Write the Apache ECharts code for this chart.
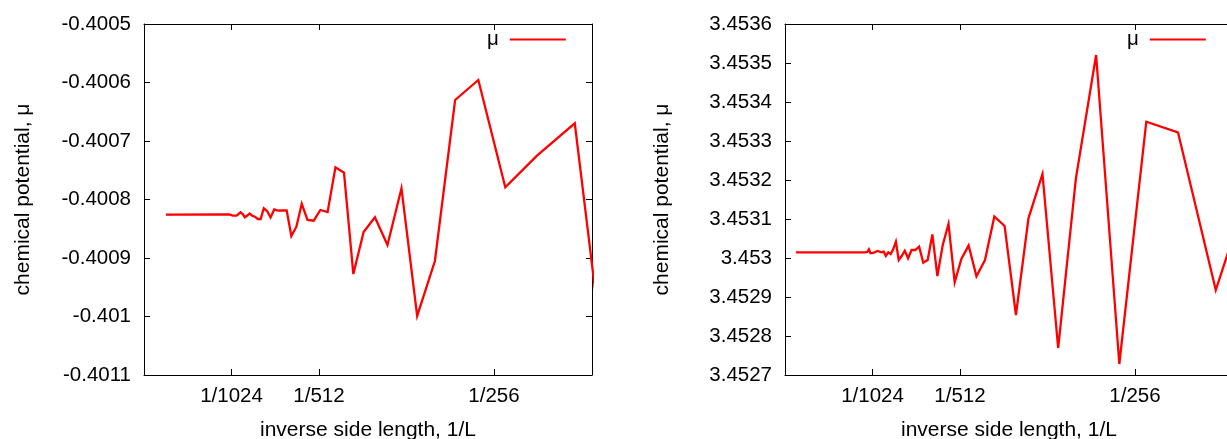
<!DOCTYPE html>
<html>
<head>
<meta charset="utf-8">
<script src="https://cdn.jsdelivr.net/npm/echarts@6/dist/echarts.min.js"></script>
<style>
  html, body { margin: 0; padding: 0; background: #fff; }
  #chart { width: 1227px; height: 439px; }
</style>
</head>
<body>
<div id="chart"></div>
<script>
// Side lengths L of the simulated lattices and the chemical potential measured on each.
const sizesA = [4096, 1128, 1108, 1088, 1068, 1048, 1028, 1008, 988, 968, 948, 928, 908, 888, 868, 848, 828, 808, 788, 768, 748, 728, 708, 688, 668, 648, 628, 608, 588, 568, 548, 528, 508, 488, 468, 448, 428, 408, 388, 368, 348, 328, 308, 288, 268, 248, 228, 208, 188];
const muA = [-0.4008260, -0.4008256, -0.4008248, -0.4008256, -0.4008274, -0.4008256, -0.4008253, -0.4008277, -0.4008265, -0.4008274, -0.4008265, -0.4008219, -0.4008248, -0.4008304, -0.4008274, -0.4008239, -0.4008277, -0.4008294, -0.4008333, -0.4008333, -0.4008150, -0.4008197, -0.4008308, -0.4008171, -0.4008191, -0.4008188, -0.4008188, -0.4008624, -0.4008465, -0.4008073, -0.4008350, -0.4008362, -0.4008179, -0.4008214, -0.4007450, -0.4007542, -0.4009274, -0.4008556, -0.4008304, -0.4008778, -0.4007809, -0.4009991, -0.4009051, -0.4006299, -0.4005957, -0.4007792, -0.4007251, -0.4006697, -0.4013120];

const sizesB = [8192, 1128, 1108, 1088, 1068, 1048, 1028, 1008, 988, 968, 948, 928, 908, 888, 868, 848, 828, 808, 788, 768, 748, 728, 708, 688, 668, 648, 628, 608, 588, 568, 548, 528, 508, 488, 468, 448, 428, 408, 388, 368, 348, 328, 308, 288, 268, 248, 228, 208, 188];
const muB = [3.4530146, 3.4530146, 3.4530146, 3.4530154, 3.4530223, 3.4530121, 3.4530162, 3.4530136, 3.4530085, 3.4530179, 3.4530162, 3.4530146, 3.4530162, 3.4530051, 3.4530146, 3.4530103, 3.4530223, 3.4530418, 3.4529949, 3.4530051, 3.4530187, 3.4529992, 3.4530205, 3.4530205, 3.4530290, 3.4529879, 3.4529949, 3.4530603, 3.4529538, 3.4530333, 3.4530872, 3.4529380, 3.4529974, 3.4530321, 3.4529530, 3.4529949, 3.4531064, 3.4530821, 3.4528538, 3.4531018, 3.4532154, 3.4527692, 3.4532044, 3.4535205, 3.4527282, 3.4533495, 3.4533223, 3.4529179, 3.4532769];

// x-axis tick labels and their positions on the 1/L scale
const xTickLabels = ['1/1024', '1/512', '1/256'];
const xTickValues = [1 / 1024, 1 / 512, 1 / 256];

const yRangeA = { min: -0.4011, max: -0.4005, step: 0.0001 };
const yRangeB = { min: 3.4527, max: 3.4536, step: 0.0001 };

const FONT = 'Liberation Sans';
const FS_TICK = 20.5;
const FS_NAME = 21;
const RED = '#ff0000';
const INK = '#000000';

function fmtY(v) { return String(parseFloat(v.toFixed(4))); }
function fmtX(v) {
  for (let i = 0; i < xTickValues.length; i++) {
    if (Math.abs(v - xTickValues[i]) < 1e-9) return xTickLabels[i];
  }
  return '';
}

// Two side-by-side panels; the right one runs slightly past the canvas edge.
const grids = [
  { left: 144, right: 635, top: 24, bottom: 64, outerBoundsMode: 'none', containLabel: false },
  { left: 785, right: -6, top: 24, bottom: 64, outerBoundsMode: 'none', containLabel: false }
];

function xAxes(gi) {
  const base = {
    gridIndex: gi, type: 'value', min: 0, max: 0.005,
    splitLine: { show: false },
    axisLine: { show: true, onZero: false, lineStyle: { color: INK, width: 1 } },
    axisTick: { show: true, inside: true, length: 6, customValues: xTickValues, lineStyle: { color: INK } }
  };
  return [
    Object.assign({}, base, {
      position: 'bottom',
      name: 'inverse side length, 1/L', nameLocation: 'middle', nameGap: 45,
      nameTextStyle: { fontFamily: FONT, fontSize: FS_NAME, color: INK },
      axisLabel: { show: true, customValues: xTickValues, formatter: fmtX, margin: 11,
        fontFamily: FONT, fontSize: FS_TICK, color: INK }
    }),
    Object.assign({}, base, { position: 'top', axisLabel: { show: false } })
  ];
}

function yAxes(gi, r, gap) {
  const base = {
    gridIndex: gi, type: 'value', min: r.min, max: r.max, interval: r.step,
    splitLine: { show: false },
    axisLine: { show: true, onZero: false, lineStyle: { color: INK, width: 1 } },
    axisTick: { show: true, inside: true, length: 6, lineStyle: { color: INK } }
  };
  return [
    Object.assign({}, base, {
      position: 'left',
      name: 'chemical potential, μ', nameLocation: 'middle', nameGap: gap,
      nameTextStyle: { fontFamily: FONT, fontSize: FS_NAME, color: INK },
      axisLabel: { show: true, formatter: fmtY, margin: 13, fontFamily: FONT, fontSize: FS_TICK, color: INK }
    }),
    Object.assign({}, base, { position: 'right', axisLabel: { show: false } })
  ];
}

function toPoints(sizes, mu) { return sizes.map((L, i) => [1 / L, mu[i]]); }

// Key: label first, then a short red line sample.
function legendAt(left, top) {
  return {
    data: [{ name: 'μ', icon: 'rect' }], left: left, top: top, orient: 'horizontal', align: 'right',
    itemWidth: 56, itemHeight: 2, selectedMode: false,
    itemStyle: { color: RED },
    textStyle: { fontFamily: FONT, fontSize: FS_TICK, color: INK, padding: [6, 6, 0, 0] }
  };
}

const series = [
  { data: toPoints(sizesA, muA), xAxisIndex: 0, yAxisIndex: 0 },
  { data: toPoints(sizesB, muB), xAxisIndex: 2, yAxisIndex: 2 }
].map(s => Object.assign({
  name: 'μ', type: 'line', symbol: 'none', clip: true, silent: true,
  lineStyle: { color: RED, width: 2.3, join: 'miter', miterLimit: 6 },
  itemStyle: { color: RED }
}, s));

const chart = echarts.init(document.getElementById('chart'), null, { renderer: 'canvas' });
chart.setOption({
  animation: false,
  backgroundColor: '#ffffff',
  grid: grids,
  xAxis: xAxes(0).concat(xAxes(1)),
  yAxis: yAxes(0, yRangeA, 110).concat(yAxes(1, yRangeB, 112)),
  legend: [legendAt(482, 24), legendAt(1122, 24)],
  series: series
});
</script>
</body>
</html>
